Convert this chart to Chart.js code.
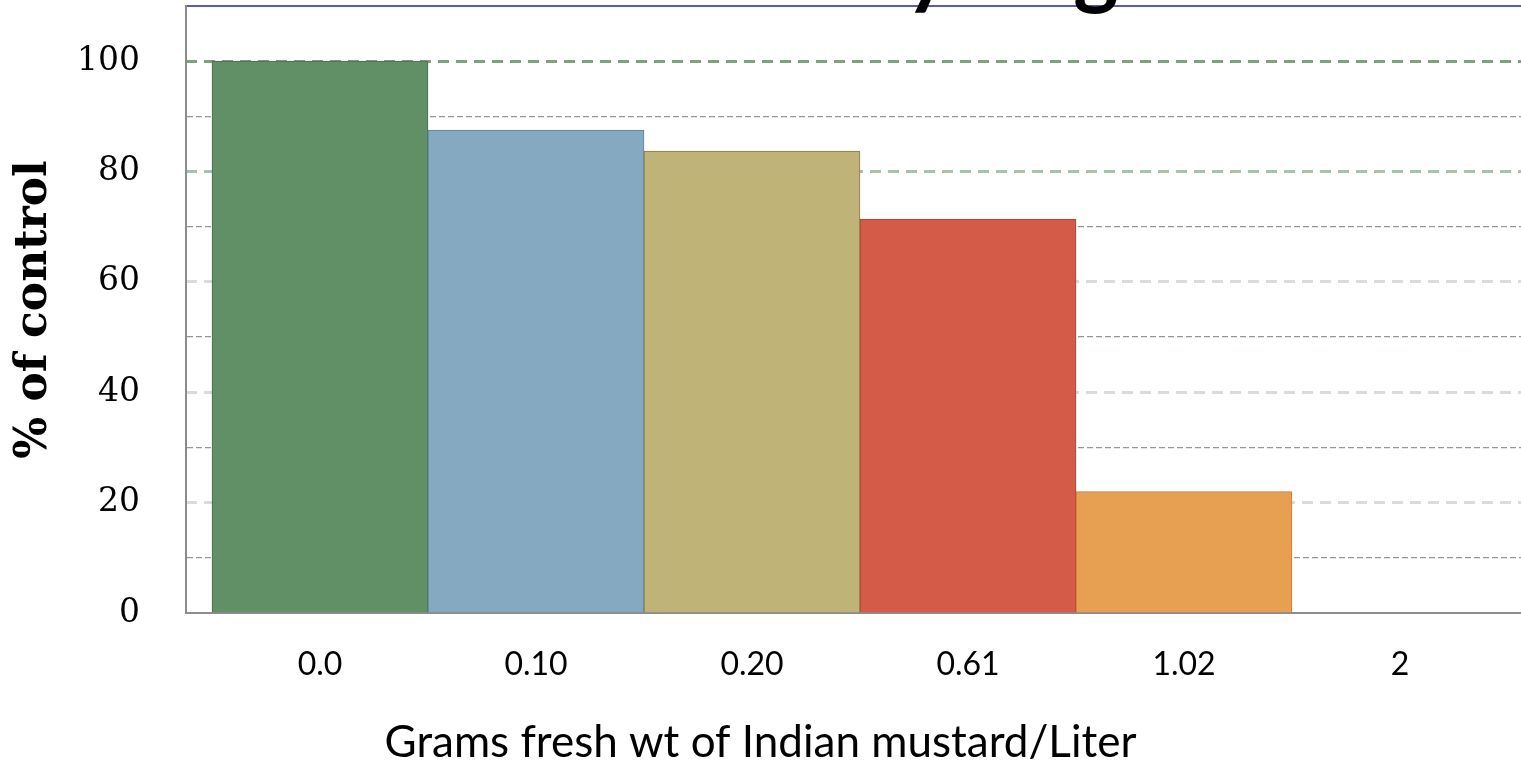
<!DOCTYPE html>
<html>
<head>
<meta charset="utf-8">
<script src="https://cdn.jsdelivr.net/npm/chart.js@4.4.1/dist/chart.umd.min.js"></script>
<style>
  html, body { margin: 0; padding: 0; background: #fff; overflow: hidden; }
  #wrap { position: relative; width: 1521px; height: 780px; }
</style>
</head>
<body>
<div id="wrap"><canvas id="barChart" width="1521" height="780"></canvas></div>
<script>
// doses (g fresh wt / L) and response as % of control
const doses = ["0.0", "0.10", "0.20", "0.61", "1.02", "2"];
const pctControl = [100, 87.5, 83.7, 71.4, 22.0, 0];
const fillColors = ["#618f66", "#84a9c1", "#bfb378", "#d45b47", "#e7a052", "#e7a052"];
const edgeColors = ["#4b6b4e", "#5f8499", "#857a46", "#b04331", "#c9773c", "rgba(0,0,0,0)"];
const yTicks = [0, 20, 40, 60, 80, 100];

const titleText = "Toxicity to germination"; // slide title, mostly cut off above the frame

// slide title sits above the frame, only the descenders show
const slideTitle = {
  id: "slideTitle",
  afterDraw(chart) {
    const c = chart.ctx;
    c.save();
    c.font = "bold 86px Lato";
    c.fillStyle = "#000";
    c.textBaseline = "alphabetic";
    const pre = c.measureText("Toxicit").width;
    c.fillText(titleText, 905 - pre, -2);
    c.restore();
  }
};

// no edge padding for the tick labels, the frame fills the canvas
const noPad = s => { s.paddingTop = 0; s.paddingBottom = 0; s.paddingLeft = 0; s.paddingRight = 0; };

var ctx = document.getElementById("barChart").getContext("2d");
var chart = new Chart(ctx, {
  type: "bar",
  data: {
    datasets: [{
      data: pctControl.map((v, i) => ({ x: i, y: v })),
      backgroundColor: fillColors,
      borderColor: edgeColors,
      borderWidth: 1,
      barPercentage: 1,
      categoryPercentage: 1
    }]
  },
  options: {
    responsive: false,
    animation: false,
    layout: { padding: 0 },
    plugins: {
      legend: { display: false },
      tooltip: { enabled: false },
      // x axis caption is centred on the whole slide, not the plot
      title: {
        display: true,
        position: "bottom",
        text: "Grams fresh wt of Indian mustard/Liter",
        color: "#000",
        font: { family: "Lato", size: 44, weight: "normal" },
        padding: { top: 0, bottom: 11 }
      }
    },
    scales: {
      x: {
        type: "linear",
        position: "bottom",
        offset: false,
        min: -0.6204,
        max: 5.5602,
        afterFit: s => { s.height = 167 - 63.8; noPad(s); },
        ticks: {
          stepSize: 1,
          includeBounds: false,
          autoSkip: false,
          maxRotation: 0,
          padding: 32,
          color: "#000",
          font: { family: "Lato", size: 32 },
          callback: v => Number.isInteger(v) ? doses[v] : ""
        },
        grid: { drawOnChartArea: false, drawTicks: false },
        border: { color: "#8c8c8c", width: 2 }
      },
      xTop: {
        type: "linear",
        position: "top",
        offset: false,
        min: 0, max: 1,
        afterFit: s => { s.height = 6; noPad(s); },
        ticks: { display: false },
        grid: { drawOnChartArea: false, drawTicks: false },
        border: { color: "#5b57c6", width: 2 }
      },
      y: {
        position: "left",
        min: 0,
        max: 110,
        afterFit: s => { s.width = 186; noPad(s); },
        ticks: {
          stepSize: 10,
          padding: 46,
          color: "#000",
          font: { family: "DejaVu Serif", size: 33 },
          callback: v => yTicks.includes(v) ? String(v) : ""
        },
        grid: {
          drawTicks: false,
          lineWidth: 1.3,
          color: c => (c.tick && c.tick.value % 20 === 10 && c.tick.value < 110) ? "#8e9c8e" : "rgba(0,0,0,0)"
        },
        border: { color: "#8c8c8c", width: 2, dash: [6, 3] },
        title: {
          display: true,
          text: "% of control",
          color: "#000",
          font: { family: "DejaVu Serif", size: 44, weight: "bold" },
          padding: { top: 8, bottom: 0 }
        }
      },
      yMajor: {
        position: "left",
        min: 0,
        max: 110,
        afterFit: s => { s.width = 0; noPad(s); },
        ticks: { display: false, stepSize: 20 },
        grid: {
          drawTicks: false,
          lineWidth: 3,
          color: c => {
            const v = c.tick ? c.tick.value : 0;
            if (v === 100) return "#7fa180";
            if (v === 80) return "#a9c2ab";
            if (v > 0 && v < 80) return "#d6ded6";
            return "rgba(0,0,0,0)";
          }
        },
        border: { display: false, dash: [11, 7] }
      }
    }
  },
  plugins: [slideTitle]
});
</script>
</body>
</html>
